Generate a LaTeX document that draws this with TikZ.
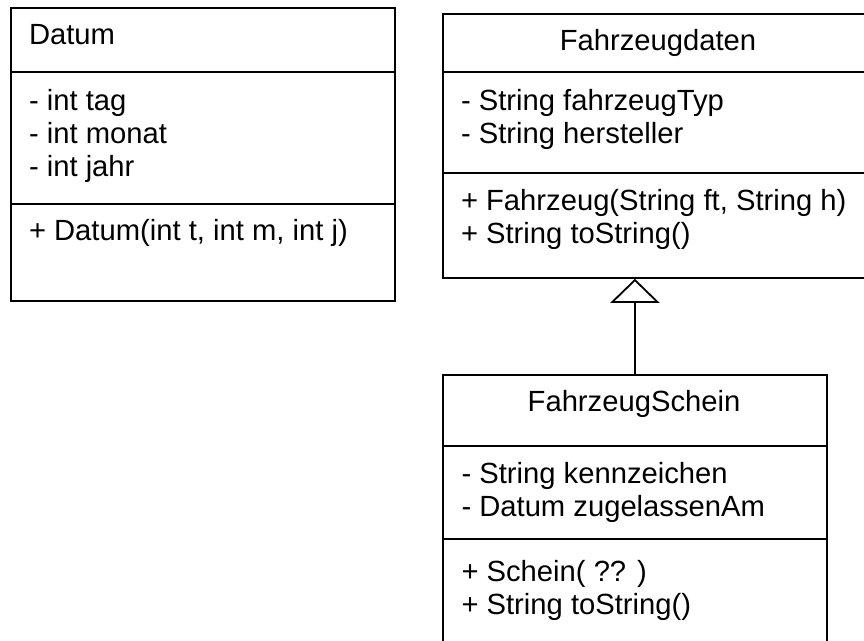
\documentclass[tikz,border=0pt]{standalone}
\usepackage{fontspec}
\setmainfont{Liberation Sans}
\usetikzlibrary{arrows.meta}
\tikzset{
  umlbox/.style={draw=black, line width=1.8pt, fill=none, inner sep=0pt, anchor=north west},
  sepline/.style={draw=black, line width=1.8pt},
  txt/.style={anchor=base west, inner sep=0pt, outer sep=0pt, text=black, font=\fontsize{29.2pt}{33pt}\selectfont},
  ttl/.style={anchor=base, inner sep=0pt, outer sep=0pt, text=black, font=\fontsize{29.2pt}{33pt}\selectfont},
  inherit/.style={draw=black, line width=1.8pt, -{Triangle[open, length=24pt, width=49pt]}}
}
\begin{document}
\begin{tikzpicture}[x=1pt, y=-1pt]
\useasboundingbox (0,0) rectangle (864,640);
\clip (0,0) rectangle (864,640);
% Datum
\node[umlbox, minimum width=384pt, minimum height=293pt] (datum) at (10,7) {};
\draw[sepline] (datum.west |- 0,72) -- (datum.east |- 0,72);
\draw[sepline] (datum.west |- 0,204) -- (datum.east |- 0,204);
\node[txt] (dtitle) at (29,44.3) {Datum};
\node[txt] (da1) at (29,110) {- int tag};
\node[txt] (da2) at (29,143.3) {- int monat};
\node[txt] (da3) at (29,176.7) {- int jahr};
\node[txt] (dm1) at (29,240.5) {+ Datum(int t, int m, int j)};
% Fahrzeugdaten
\node[umlbox, minimum width=432pt, minimum height=264pt] (fd) at (442,13) {};
\draw[sepline] (fd.west |- 0,71.7) -- (fd.east |- 0,71.7);
\draw[sepline] (fd.west |- 0,172.7) -- (fd.east |- 0,172.7);
\node[ttl] (fdtitle) at (658,50.7) {Fahrzeugdaten};
\node[txt] (fda1) at (461,110) {- String fahrzeugTyp};
\node[txt] (fda2) at (461,143.3) {- String hersteller};
\node[txt] (fdm1) at (461,210) {+ Fahrzeug(String ft, String h)};
\node[txt] (fdm2) at (461,243.3) {+ String toString()};
% FahrzeugSchein
\node[umlbox, minimum width=384pt, minimum height=320pt] (fs) at (442,374) {};
\draw[sepline] (fs.west |- 0,446) -- (fs.east |- 0,446);
\draw[sepline] (fs.west |- 0,539) -- (fs.east |- 0,539);
\node[ttl] (fstitle) at (634,411.7) {FahrzeugSchein};
\node[txt] (fsa1) at (461.5,483.5) {- String kennzeichen};
\node[txt] (fsa2) at (461.5,516.7) {- Datum zugelassenAm};
\node[txt] (fsm1) at (461.5,581) {+ Schein( ?? )};
\node[txt] (fsm2) at (461.5,614) {+ String toString()};
% inheritance
\draw[inherit] (fs.north) -- (fs.north |- fd.south);
\end{tikzpicture}
\end{document}
